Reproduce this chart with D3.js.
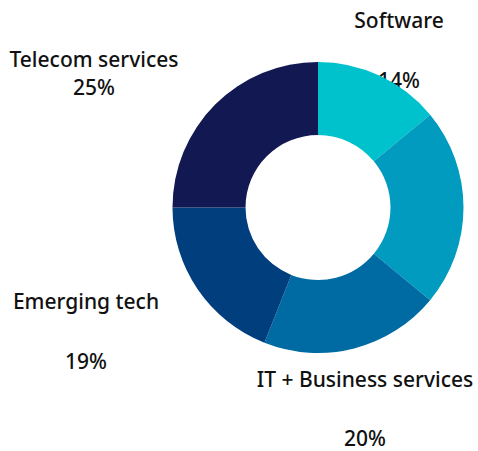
<!DOCTYPE html>
<html>
<head>
<meta charset="utf-8">
<script src="https://cdn.jsdelivr.net/npm/d3@7/dist/d3.min.js"></script>
<style>
  html, body { margin: 0; padding: 0; background: #fff; }
  svg { display: block; }
  text { font-family: "Noto Sans", "Open Sans", sans-serif; fill: #111; font-weight: 500; }
</style>
</head>
<body>
<svg id="chart" width="478" height="451"></svg>
<script>
// Share of spend by segment, clockwise from 12 o'clock
const segments = ["Software", "Hardware & devices", "IT + Business services", "Emerging tech", "Telecom services"];
const shares = [14, 22, 20, 19, 25];
const colors = ["#00c2cc", "#009bbf", "#006ba3", "#003e7d", "#111852"];
// Which segments carry a visible label
const labelled = [true, false, true, true, true];

const width = 478, height = 451;
const cx = 318, cy = 207.5;
const outerR = 145.5, innerR = 72.5;
const fontSize = 21;

// Label anchors (name baseline, value baseline) per segment
const labelLayout = [
  { x: 399, nameY: 28, valueY: 88 },
  null,
  { x: 365, nameY: 387, valueY: 446 },
  { x: 86, nameY: 309, valueY: 369 },
  { x: 94, nameY: 67, valueY: 95 }
];

const svg = d3.select("#chart");

const rows = segments.map((name, i) => ({ name, value: shares[i], color: colors[i], i }));

// Labels sit underneath the ring
const labels = svg.append("g").attr("class", "labels");
rows.forEach(d => {
  const L = labelLayout[d.i];
  if (!labelled[d.i] || !L) return;
  const g = labels.append("g");
  g.append("text")
    .attr("x", L.x).attr("y", L.nameY)
    .attr("text-anchor", "middle")
    .attr("font-size", fontSize)
    .text(d.name);
  g.append("text")
    .attr("x", L.x).attr("y", L.valueY)
    .attr("text-anchor", "middle")
    .attr("font-size", fontSize)
    .text(d.value + "%");
});

const pie = d3.pie().value(d => d.value).sort(null);
const arc = d3.arc().innerRadius(innerR).outerRadius(outerR);

svg.append("g")
  .attr("transform", `translate(${cx},${cy})`)
  .selectAll("path")
  .data(pie(rows))
  .join("path")
  .attr("d", arc)
  .attr("fill", d => d.data.color);
</script>
</body>
</html>
